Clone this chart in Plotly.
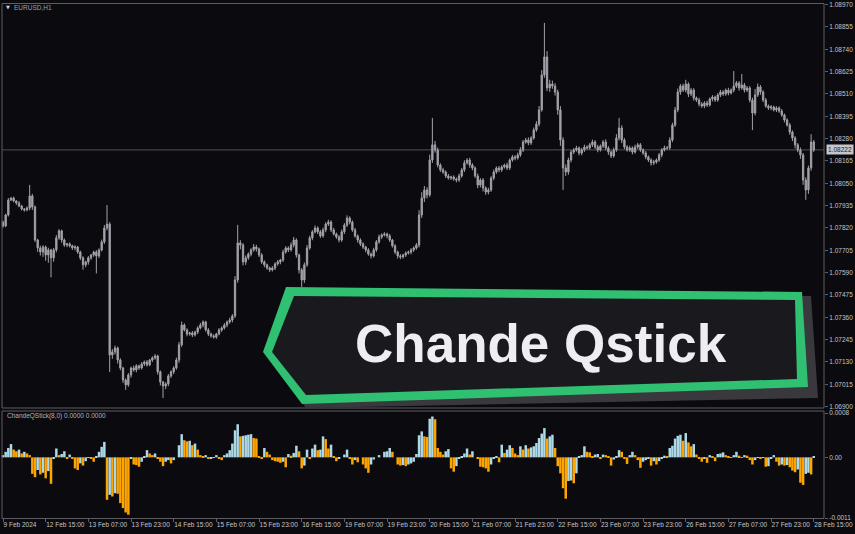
import plotly.graph_objects as go

# ---------------- data ----------------
symbol_label = "EURUSD,H1"
indicator_label = "ChandeQStick(8,0) 0.0000 0.0000"
banner_title = "Chande Qstick"
first_open = 1.07850
current_price = 1.08222

close = [
    1.07830, 1.07887, 1.07964, 1.07974, 1.07959, 1.07949, 1.07933, 1.07918, 1.07913, 1.07923,
    1.07985, 1.07928, 1.07758, 1.07717, 1.07696, 1.07722, 1.07681, 1.07707, 1.07666, 1.07707,
    1.07769, 1.07805, 1.07758, 1.07732, 1.07738, 1.07728, 1.07717, 1.07722, 1.07696, 1.07666,
    1.07630, 1.07645, 1.07666, 1.07681, 1.07696, 1.07676, 1.07707, 1.07748, 1.07820, 1.07840,
    1.07166, 1.07182, 1.07202, 1.07140, 1.07099, 1.07037, 1.07012, 1.07063, 1.07099, 1.07089,
    1.07110, 1.07099, 1.07120, 1.07130, 1.07115, 1.07140, 1.07151, 1.07161, 1.07079, 1.07027,
    1.07006, 1.07017, 1.07058, 1.07079, 1.07099, 1.07140, 1.07218, 1.07320, 1.07295, 1.07274,
    1.07279, 1.07269, 1.07284, 1.07305, 1.07320, 1.07336, 1.07295, 1.07274, 1.07264, 1.07258,
    1.07274, 1.07295, 1.07305, 1.07320, 1.07336, 1.07346, 1.07367, 1.07552, 1.07743, 1.07732,
    1.07645, 1.07666, 1.07686, 1.07707, 1.07722, 1.07712, 1.07681, 1.07645, 1.07630, 1.07614,
    1.07604, 1.07614, 1.07635, 1.07645, 1.07655, 1.07696, 1.07717, 1.07707, 1.07732, 1.07758,
    1.07681, 1.07604, 1.07552, 1.07630, 1.07717, 1.07769, 1.07800, 1.07820, 1.07800, 1.07779,
    1.07810, 1.07840, 1.07851, 1.07810, 1.07789, 1.07774, 1.07758, 1.07800, 1.07835, 1.07871,
    1.07851, 1.07810, 1.07779, 1.07758, 1.07738, 1.07722, 1.07707, 1.07686, 1.07676, 1.07707,
    1.07748, 1.07774, 1.07784, 1.07789, 1.07779, 1.07758, 1.07728, 1.07696, 1.07676, 1.07671,
    1.07681, 1.07691, 1.07696, 1.07707, 1.07717, 1.07732, 1.07887, 1.07974, 1.08016, 1.07990,
    1.08170, 1.08248, 1.08222, 1.08144, 1.08119, 1.08108, 1.08088, 1.08077, 1.08082, 1.08072,
    1.08067, 1.08088, 1.08119, 1.08155, 1.08170, 1.08144, 1.08129, 1.08088, 1.08041, 1.08067,
    1.08026, 1.08005, 1.08016, 1.08077, 1.08108, 1.08129, 1.08119, 1.08134, 1.08144, 1.08129,
    1.08170, 1.08186, 1.08180, 1.08196, 1.08222, 1.08263, 1.08273, 1.08258, 1.08283, 1.08325,
    1.08355, 1.08428, 1.08608, 1.08701, 1.08541, 1.08561, 1.08551, 1.08520, 1.08428, 1.08273,
    1.08129, 1.08108, 1.08170, 1.08211, 1.08222, 1.08232, 1.08206, 1.08222, 1.08237, 1.08232,
    1.08248, 1.08263, 1.08237, 1.08222, 1.08242, 1.08263, 1.08232, 1.08211, 1.08191, 1.08222,
    1.08283, 1.08335, 1.08273, 1.08237, 1.08222, 1.08232, 1.08211, 1.08237, 1.08248, 1.08222,
    1.08206, 1.08186, 1.08170, 1.08155, 1.08160, 1.08170, 1.08196, 1.08222, 1.08232, 1.08232,
    1.08273, 1.08350, 1.08428, 1.08520, 1.08551, 1.08530, 1.08561, 1.08510, 1.08530, 1.08489,
    1.08479, 1.08458, 1.08448, 1.08464, 1.08453, 1.08484, 1.08494, 1.08479, 1.08505, 1.08520,
    1.08510, 1.08530, 1.08515, 1.08530, 1.08551, 1.08567, 1.08541, 1.08556, 1.08530, 1.08541,
    1.08479, 1.08412, 1.08505, 1.08546, 1.08520, 1.08479, 1.08448, 1.08438, 1.08443, 1.08428,
    1.08438, 1.08422, 1.08402, 1.08376, 1.08350, 1.08314, 1.08283, 1.08248, 1.08222, 1.08196,
    1.08067, 1.08016, 1.08129, 1.08263, 1.08222,
]

# upper / lower wick lengths in points (0.00001)
hi_wick = [
    8, 6, 10, 5, 7, 4, 9, 6, 5, 8,
    57, 10, 8, 6, 12, 9, 7, 11, 6, 10,
    14, 9, 6, 8, 5, 7, 6, 9, 5, 7,
    8, 6, 9, 5, 7, 10, 8, 12, 15, 98,
    10, 14, 12, 7, 9, 6, 8, 10, 7, 12,
    8, 6, 9, 7, 10, 5, 8, 9, 6, 7,
    5, 8, 10, 7, 9, 12, 15, 18, 9, 8,
    6, 10, 7, 9, 11, 8, 6, 9, 7, 8,
    6, 9, 8, 10, 7, 12, 9, 20, 93, 14,
    10, 12, 8, 9, 15, 11, 7, 9, 8, 6,
    7, 9, 8, 10, 6, 12, 9, 8, 14, 16,
    9, 7, 10, 12, 15, 11, 9, 13, 8, 10,
    12, 9, 11, 8, 10, 7, 9, 12, 10, 14,
    9, 8, 10, 7, 9, 8, 6, 9, 7, 11,
    10, 12, 8, 9, 7, 10, 6, 8, 7, 9,
    6, 8, 7, 9, 8, 10, 25, 30, 20, 14,
    28, 139, 20, 12, 9, 11, 8, 10, 7, 9,
    8, 12, 10, 14, 9, 11, 10, 8, 12, 9,
    10, 8, 11, 9, 13, 8, 10, 9, 7, 12,
    8, 10, 9, 12, 14, 10, 11, 13, 9, 12,
    15, 20, 25, 175, 30, 22, 18, 15, 12, 20,
    14, 18, 12, 10, 9, 11, 8, 10, 12, 9,
    10, 12, 9, 11, 8, 10, 13, 9, 8, 12,
    20, 52, 14, 10, 9, 11, 8, 12, 10, 9,
    8, 10, 7, 9, 11, 8, 10, 9, 12, 10,
    14, 12, 15, 18, 10, 12, 22, 9, 11, 10,
    8, 12, 10, 9, 11, 8, 10, 7, 9, 11,
    10, 8, 12, 9, 77, 10, 9, 57, 11, 10,
    9, 12, 30, 18, 10, 9, 11, 8, 10, 7,
    9, 8, 10, 7, 9, 11, 8, 10, 9, 12,
    10, 14, 12, 40, 10,
]
lo_wick = [
    9, 6, 8, 5, 7, 10, 6, 8, 9, 7,
    12, 15, 10, 20, 18, 25, 30, 40, 100, 20,
    12, 10, 14, 9, 11, 8, 10, 12, 9, 11,
    25, 12, 14, 10, 9, 90, 11, 8, 10, 12,
    88, 20, 14, 18, 12, 15, 26, 10, 14, 9,
    12, 10, 8, 11, 9, 7, 10, 9, 14, 18,
    62, 16, 12, 10, 11, 9, 14, 10, 8, 12,
    9, 11, 8, 10, 7, 12, 9, 11, 10, 8,
    9, 7, 10, 8, 11, 9, 12, 10, 14, 22,
    18, 15, 10, 12, 9, 14, 11, 10, 12, 9,
    10, 8, 11, 9, 12, 10, 8, 11, 9, 12,
    14, 18, 36, 15, 10, 9, 12, 8, 11, 10,
    9, 12, 10, 11, 8, 10, 12, 9, 11, 10,
    12, 10, 9, 14, 11, 10, 12, 9, 13, 8,
    10, 9, 11, 8, 12, 10, 9, 11, 14, 12,
    9, 10, 8, 12, 10, 9, 12, 15, 20, 18,
    10, 15, 14, 12, 10, 9, 11, 8, 10, 9,
    12, 10, 9, 11, 8, 14, 12, 10, 16, 12,
    18, 14, 12, 10, 11, 9, 12, 10, 8, 11,
    10, 9, 12, 8, 10, 11, 9, 12, 10, 8,
    10, 12, 9, 14, 16, 20, 14, 18, 25, 30,
    113, 20, 14, 12, 10, 9, 12, 11, 10, 8,
    9, 11, 10, 12, 8, 10, 12, 14, 11, 9,
    10, 12, 16, 11, 9, 10, 12, 8, 11, 10,
    9, 12, 10, 14, 11, 9, 10, 12, 8, 10,
    9, 11, 10, 12, 14, 10, 12, 16, 11, 13,
    10, 12, 9, 11, 10, 8, 12, 10, 9, 11,
    10, 9, 12, 8, 11, 10, 14, 9, 12, 10,
    12, 88, 12, 10, 14, 11, 9, 10, 12, 8,
    11, 9, 10, 12, 8, 14, 16, 18, 12, 20,
    25, 51, 20, 14, 10,
]

# Chande Qstick(8) values in points (0.00001)
qstick = [
    4, 10, 17, 24, 14, 11, 14, 7, 10, 7, 4,
    -30, -36, -23, -31, -28, -38, -25, -48, -2, 16,
    4, 6, 11, -2, 5, -2, -20, -23, -11, -15,
    -7, -1, -2, -8, 2, 10, 19, 28, -77, -68,
    -71, -65, -66, -83, -92, -100, -104, -2, -13, -14,
    -17, -8, 1, 13, 7, 4, 7, -2, -8, -16,
    -8, -5, -11, -5, 0, 22, 42, 31, 29, 30,
    22, 25, 14, 4, 1, 4, -3, -2, -1, 4,
    -2, -5, 4, 7, 13, 25, 49, 60, 38, 39,
    40, 41, 42, 35, 34, 1, -2, 17, 10, 5,
    -5, -7, -8, -10, -8, -18, 6, 3, 8, 21,
    11, -20, -15, 14, -2, 16, 23, 13, 14, 38,
    33, 16, 23, 2, -7, -2, 0, 5, 14, -3,
    -13, -5, -9, 0, -13, -20, -28, -13, -4, 0,
    4, 0, 10, 11, 17, 10, 0, -13, -15, -14,
    -16, -13, -11, -8, 6, 40, 47, 38, 37, 70,
    74, 69, 17, 10, 5, 11, 15, -20, -26, -16,
    -2, 1, 7, 16, 5, 11, 0, -2, -17, -18,
    -20, -26, -13, -2, 1, -9, 23, 8, 14, 22,
    17, 7, 4, 20, 14, 22, 16, 18, 20, 26,
    35, 43, 53, 34, 38, 41, 17, -16, -29, -56,
    -75, -43, -42, -47, -29, 2, 4, 20, 10, 9,
    2, 5, 6, -2, 5, 4, 1, -15, -4, 1,
    13, 10, -2, -12, 4, 10, 4, -5, -19, -8,
    -5, -2, -15, -7, -13, -7, -2, 3, 1, 17,
    21, 34, 39, 41, 30, 44, 27, 20, 24, 5,
    -3, -8, -2, -10, 4, 1, -7, 6, 7, 9,
    4, 2, -1, 4, 10, 3, -1, 4, 3, -5,
    -13, -5, -1, -2, -1, -17, -16, -3, 4, -8,
    -15, -13, -15, -14, -18, -24, -27, -22, -46, -50,
    -30, -28, -31, 2,
]

time_ticks = [0, 16, 32, 48, 64, 80, 96, 112, 128, 144, 160, 176, 192, 208, 224, 240, 256, 272, 288, 304]
time_labels = ["9 Feb 2024", "12 Feb 15:00", "13 Feb 07:00", "13 Feb 23:00", "14 Feb 15:00",
               "15 Feb 07:00", "15 Feb 23:00", "16 Feb 15:00", "19 Feb 07:00", "19 Feb 23:00",
               "20 Feb 15:00", "21 Feb 07:00", "21 Feb 23:00", "22 Feb 15:00", "23 Feb 07:00",
               "23 Feb 23:00", "26 Feb 15:00", "27 Feb 07:00", "27 Feb 23:00", "28 Feb 15:00"]
price_ticks = [1.06900, 1.07015, 1.07130, 1.07245, 1.07360, 1.07475, 1.07590, 1.07705, 1.07820,
               1.07935, 1.08050, 1.08165, 1.08280, 1.08395, 1.08510, 1.08625, 1.08740, 1.08855, 1.08970]
ind_ticks = [0.0008, 0.0, -0.0011]
ind_labels = ["0.0008", "0.00", "-0.0011"]

# ---------------- derived ----------------
n = min(len(close), len(hi_wick), len(lo_wick), len(qstick))
idx = list(range(n))
opens = [first_open] + close[:n - 1]
highs = [max(opens[i], close[i]) + hi_wick[i] * 1e-5 for i in idx]
lows = [min(opens[i], close[i]) - lo_wick[i] * 1e-5 for i in idx]
qv = [v * 1e-5 for v in qstick[:n]]
colors = []
for i in idx:
    if i == 0:
        colors.append("#add8e6")
    elif qv[i] > qv[i - 1]:
        colors.append("#add8e6")
    elif qv[i] < qv[i - 1]:
        colors.append("#ffa500")
    else:
        colors.append(colors[-1])

# ---------------- figure ----------------
W, H = 855, 534
ML, MR, MT, MB = 0, 31, 4, 16
PW, PH = W - ML - MR, H - MT - MB
BG = "#0b0b0f"
GRAY = "#c4c4c8"
FRAME = "#5c5c62"
CANDLE = "#a2a2aa"
FONT = "Liberation Sans"


def py(pix):
    return (H - MB - pix) / PH


def px(pix):
    return (pix - ML) / PW


fig = go.Figure()
fig.add_trace(go.Candlestick(
    x=idx, open=opens, high=highs, low=lows, close=close[:n],
    increasing=dict(line=dict(color=CANDLE, width=1), fillcolor=CANDLE),
    decreasing=dict(line=dict(color=CANDLE, width=1), fillcolor=CANDLE),
    whiskerwidth=0, xaxis="x", yaxis="y", hoverinfo="skip", showlegend=False,
))
fig.add_trace(go.Bar(
    x=idx, y=qv, marker=dict(color=colors, line=dict(width=0)),
    xaxis="x", yaxis="y2", hoverinfo="skip", showlegend=False,
))

xmin = -1.125
xmax = xmin + PW / 2.667
ytop, ybot = 4, 408

fig.update_layout(
    width=W, height=H,
    margin=dict(l=ML, r=MR, t=MT, b=MB, pad=0),
    paper_bgcolor=BG, plot_bgcolor=BG,
    bargap=0.06,
    showlegend=False,
    font=dict(family=FONT, size=7, color=GRAY),
    xaxis=dict(
        range=[xmin, xmax], anchor="y2", rangeslider=dict(visible=False),
        tickmode="array", tickvals=time_ticks, ticktext=time_labels, tickangle=0,
        ticks="outside", ticklen=3, tickcolor=FRAME, ticklabelposition="outside right",
        tickfont=dict(family=FONT, size=6.5, color=GRAY),
        showgrid=False, zeroline=False, showline=False,
    ),
    yaxis=dict(
        domain=[py(ybot), py(ytop)],
        range=[1.08994 - 0.0000515 * ybot, 1.08994 - 0.0000515 * ytop],
        side="right", anchor="x",
        tickmode="array", tickvals=price_ticks, ticktext=[f"{v:.5f}" for v in price_ticks],
        ticks="outside", ticklen=3, tickcolor=FRAME,
        tickfont=dict(family=FONT, size=6.5, color=GRAY),
        showgrid=False, zeroline=False, showline=False,
    ),
    yaxis2=dict(
        domain=[0, py(411)], range=[-0.0011, 0.00084],
        side="right", anchor="x",
        tickmode="array", tickvals=ind_ticks, ticktext=ind_labels,
        ticks="outside", ticklen=3, tickcolor=FRAME,
        tickfont=dict(family=FONT, size=6.5, color=GRAY),
        showgrid=False, zeroline=False, showline=False,
    ),
)

shapes = []
# frames
shapes.append(dict(type="rect", xref="paper", yref="paper", x0=px(2), x1=px(824), y0=py(408), y1=py(3.5),
                   line=dict(color=FRAME, width=1), fillcolor="rgba(0,0,0,0)", layer="above"))
shapes.append(dict(type="rect", xref="paper", yref="paper", x0=px(2), x1=px(824), y0=py(518.5), y1=py(411),
                   line=dict(color=FRAME, width=1), fillcolor="rgba(0,0,0,0)", layer="above"))
# current price line
shapes.append(dict(type="line", xref="paper", yref="y", x0=px(2), x1=px(824), y0=current_price, y1=current_price,
                   line=dict(color="#505056", width=1), layer="below"))


def poly(points):
    s = "M " + " L ".join(f"{px(a):.5f},{py(b):.5f}" for a, b in points) + " Z"
    return s


shadow = [(292, 292), (811, 296), (818, 398), (306, 408), (270, 358)]
outer = [(286, 287), (802, 292), (808, 387), (302, 404), (263, 352)]
inner = [(294, 296), (795, 300), (797, 379), (306, 395), (272, 352)]
shapes.append(dict(type="path", xref="paper", yref="paper", path=poly(shadow),
                   fillcolor="#38383d", line=dict(width=0), layer="above"))
shapes.append(dict(type="path", xref="paper", yref="paper", path=poly(outer),
                   fillcolor="#30c072", line=dict(width=0), layer="above"))
shapes.append(dict(type="path", xref="paper", yref="paper", path=poly(inner),
                   fillcolor="#1a1a1e", line=dict(width=0), layer="above"))
fig.update_layout(shapes=shapes)

annotations = [
    dict(xref="paper", yref="paper", x=px(541), y=py(343), text=f"<b>{banner_title}</b>",
         showarrow=False, xanchor="center", yanchor="middle",
         font=dict(family=FONT, size=53, color="#eeeef2")),
    dict(xref="paper", yref="paper", x=px(4), y=py(7), text="▼", showarrow=False,
         xanchor="left", yanchor="middle", font=dict(family="DejaVu Sans", size=5, color="#d0d0d8")),
    dict(xref="paper", yref="paper", x=px(12), y=py(7.5), text=symbol_label, showarrow=False,
         xanchor="left", yanchor="middle", font=dict(family=FONT, size=6.5, color="#9aa0b8")),
    dict(xref="paper", yref="paper", x=px(5), y=py(416), text=indicator_label, showarrow=False,
         xanchor="left", yanchor="middle", font=dict(family=FONT, size=6.5, color="#b4b4b8")),
    dict(xref="paper", yref="y", x=1, y=current_price, text="1.08222", showarrow=False,
         xanchor="left", yanchor="middle", xshift=2, bgcolor="#c6c6ca", borderpad=1,
         font=dict(family=FONT, size=6.5, color="#202024")),
]
fig.update_layout(annotations=annotations)

fig.write_html(
    "out.html",
    config={"displayModeBar": False},
    post_script="document.body.style.margin='0';document.body.style.background='#0b0b0f';",
)
